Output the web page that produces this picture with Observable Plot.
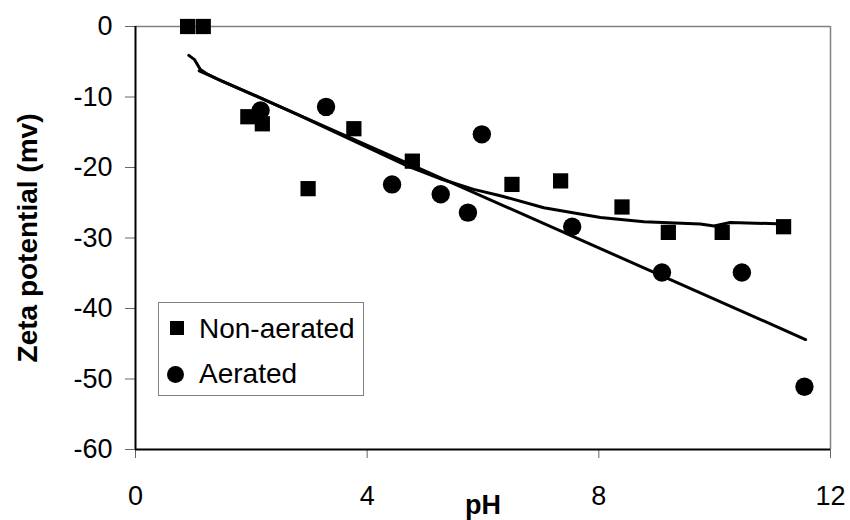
<!DOCTYPE html>
<html>
<head>
<meta charset="utf-8">
<script src="https://cdn.jsdelivr.net/npm/d3@7"></script>
<script src="https://cdn.jsdelivr.net/npm/@observablehq/plot@0.6"></script>
<style>
  html, body { margin: 0; padding: 0; background: #fff; }
  #wrap { position: relative; width: 850px; height: 520px; font-family: "Liberation Sans", Arial, sans-serif; }
  #legend {
    position: absolute; left: 158px; top: 302px; width: 206px; height: 94px;
    border: 1px solid #808080; background: #fff; box-sizing: border-box;
    font-size: 28px; line-height: 28px; color: #000;
  }
  #legend .t { position: absolute; left: 40px; white-space: nowrap; }
  #legend .sq { position: absolute; left: 11px; top: 18px; width: 14px; height: 14px; background: #000; }
  #legend .ci { position: absolute; left: 8px; top: 63px; width: 17px; height: 17px; background: #000; border-radius: 50%; }
</style>
</head>
<body>
<div id="wrap"></div>
<script>
// Non-aerated (squares)
const nonAeratedPH   = [0.90, 1.17, 1.94, 2.19, 2.98, 3.77, 4.78, 6.50, 7.34, 8.40, 9.20, 10.13, 11.19];
const nonAeratedZeta = [0, 0, -12.8, -13.8, -23.0, -14.5, -19.1, -22.4, -21.9, -25.6, -29.2, -29.2, -28.4];
// Aerated (circles)
const aeratedPH   = [2.16, 3.29, 4.43, 5.27, 5.74, 5.98, 7.54, 9.09, 10.47, 11.55];
const aeratedZeta = [-11.9, -11.4, -22.4, -23.8, -26.4, -15.3, -28.4, -34.9, -34.9, -51.1];
// Trend curve through non-aerated data (as drawn)
const nonAeratedTrendPH   = [0.92, 1.02, 1.12, 1.25, 1.50, 2.10, 2.80, 3.50, 4.10, 4.70, 5.30, 5.84, 6.30, 7.05, 8.03, 8.78, 9.75, 9.99, 10.27, 11.19];
const nonAeratedTrendZeta = [-4.1, -4.7, -6.1, -6.8, -7.8, -9.9, -12.5, -15.2, -17.5, -19.8, -21.7, -23.1, -24.0, -25.7, -27.1, -27.7, -28.0, -28.3, -27.8, -28.0];
// Linear trend through aerated data
const aeratedTrendPH   = [1.10, 11.57];
const aeratedTrendZeta = [-6.3, -44.4];

const xTicks = [0, 4, 8, 12];
const yTicks = [0, -10, -20, -30, -40, -50, -60];
const seriesNames = ["Non-aerated", "Aerated"];
const xTitle = "pH";
const yTitle = "Zeta potential (mv)";

const sq = nonAeratedPH.map((x, i) => ({x, y: nonAeratedZeta[i]}));
const ci = aeratedPH.map((x, i) => ({x, y: aeratedZeta[i]}));
const t1 = nonAeratedTrendPH.map((x, i) => ({x, y: nonAeratedTrendZeta[i]}));
const t2 = aeratedTrendPH.map((x, i) => ({x, y: aeratedTrendZeta[i]}));

const chart = Plot.plot({
  width: 850,
  height: 520,
  marginLeft: 135,
  marginRight: 20,
  marginTop: 26,
  marginBottom: 71,
  style: {fontFamily: "'Liberation Sans', Arial, sans-serif", fontSize: "27px", color: "#000", background: "#fff", overflow: "visible"},
  x: {domain: [0, 12], ticks: xTicks, label: null},
  y: {domain: [-60, 0], ticks: yTicks, label: null},
  marks: [
    Plot.ruleY([0], {stroke: "#808080", strokeWidth: 1.5}),
    Plot.ruleX([12], {stroke: "#808080", strokeWidth: 1.5}),
    Plot.axisX({ticks: xTicks, tickSize: 9, tickPadding: 27, fontSize: 27, stroke: "#666", label: null}),
    Plot.axisY({ticks: yTicks, tickSize: 10, tickPadding: 13, fontSize: 27, stroke: "#666", tickFormat: d => String(d), label: null}),
    Plot.ruleX([0], {stroke: "#000", strokeWidth: 2}),
    Plot.ruleY([-60], {stroke: "#000", strokeWidth: 2}),
    Plot.line(t2, {x: "x", y: "y", stroke: "#000", strokeWidth: 3}),
    Plot.line(t1, {x: "x", y: "y", stroke: "#000", strokeWidth: 3}),
    Plot.dot(sq, {x: "x", y: "y", symbol: "square", r: 8.6, fill: "#000", stroke: "none"}),
    Plot.dot(ci, {x: "x", y: "y", symbol: "circle", r: 9.2, fill: "#000", stroke: "none"}),
    Plot.text([xTitle], {frameAnchor: "bottom", textAnchor: "middle", dy: 64, fontSize: 27, fontWeight: "bold", fill: "#000"}),
    Plot.text([yTitle], {frameAnchor: "left", textAnchor: "middle", dx: -107, rotate: -90, fontSize: 28, fontWeight: "bold", fill: "#000"})
  ]
});
const wrap = document.getElementById("wrap");
wrap.appendChild(chart);
const lg = document.createElement("div");
lg.id = "legend";
lg.innerHTML = `<span class="sq"></span><span class="t" style="top:12px">${seriesNames[0]}</span>
<span class="ci"></span><span class="t" style="top:57px">${seriesNames[1]}</span>`;
wrap.appendChild(lg);
</script>
</body>
</html>
